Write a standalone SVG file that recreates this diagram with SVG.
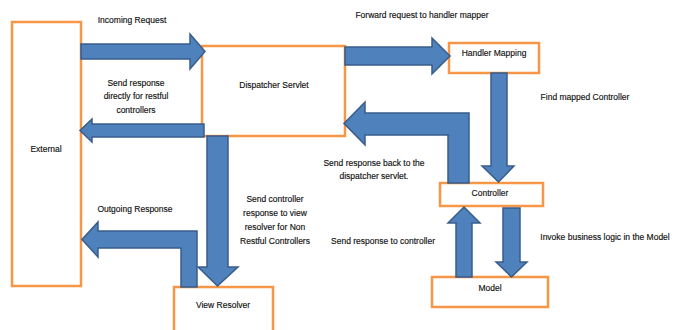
<svg xmlns="http://www.w3.org/2000/svg" width="674" height="330" viewBox="0 0 674 330">
<style>
.box{fill:#fff;stroke:#F79646;stroke-width:2.5}
.arr{fill:#4F81BD;stroke:#385D8A;stroke-width:1.5;stroke-linejoin:miter}
text{font-family:"Liberation Sans",Arial,sans-serif;font-size:8.5px;fill:#111;stroke:#111;stroke-width:0.15;text-anchor:middle}
</style>
<rect width="674" height="330" fill="#fff"/>
<g id="external"><rect class="box" x="12" y="22" width="69" height="264"/><text x="46" y="152">External</text></g>
<g id="dispatcher"><rect class="box" x="202" y="46" width="143" height="90"/><text x="274" y="88">Dispatcher Servlet</text></g>
<g id="handler"><rect class="box" x="449" y="43" width="90" height="30"/><text x="494" y="56">Handler Mapping</text></g>
<g id="controller"><rect class="box" x="440" y="183" width="103" height="23"/><text x="490" y="196">Controller</text></g>
<g id="model"><rect class="box" x="432" y="277" width="116" height="30"/><text x="490" y="291">Model</text></g>
<g id="viewresolver"><rect class="box" x="174" y="287" width="99" height="50"/><text x="223" y="308">View Resolver</text></g>
<g id="connectors">
<polygon class="arr" points="81,44 190,44 190,34 205,51.5 190,69 190,59 81,59"/>
<polygon class="arr" points="204,124 92,124 92,119 80,130.5 92,142 92,137 204,137"/>
<polygon class="arr" points="345,47 432,47 432,38 450,56 432,74 432,65 345,65"/>
<polygon class="arr" points="491,73 507,73 507,166 514,166 498.5,182 482,166 491,166"/>
<polygon class="arr" points="469,183 469,113 365,113 365,102 344,123.5 365,145 365,135 448,135 448,183"/>
<polygon class="arr" points="207,136 228,136 228,267 238,267 217.5,286 198,267 207,267"/>
<polygon class="arr" points="197,287 197,231 98,231 98,222 82,239.5 98,257 98,248 181,248 181,287"/>
<polygon class="arr" points="456,277 456,223 448,223 464,207 480,223 472,223 472,277"/>
<polygon class="arr" points="503,208 520,208 520,262 527,262 511.5,277 496,262 503,262"/>
</g>
<g id="labels">
<text x="132" y="23">Incoming Request</text>
<text x="422" y="18">Forward request to handler mapper</text>
<text x="136" y="86">Send response</text>
<text x="136" y="99">directly for restful</text>
<text x="136" y="113">controllers</text>
<text x="585" y="100">Find mapped Controller</text>
<text x="374" y="166">Send response back to the</text>
<text x="374" y="179">dispatcher servlet.</text>
<text x="275" y="202">Send controller</text>
<text x="275" y="216">response to view</text>
<text x="275" y="230">resolver for Non</text>
<text x="275" y="244">Restful Controllers</text>
<text x="135" y="212">Outgoing Response</text>
<text x="383" y="244">Send response to controller</text>
<text x="605" y="240">Invoke business logic in the Model</text>
</g>
</svg>
